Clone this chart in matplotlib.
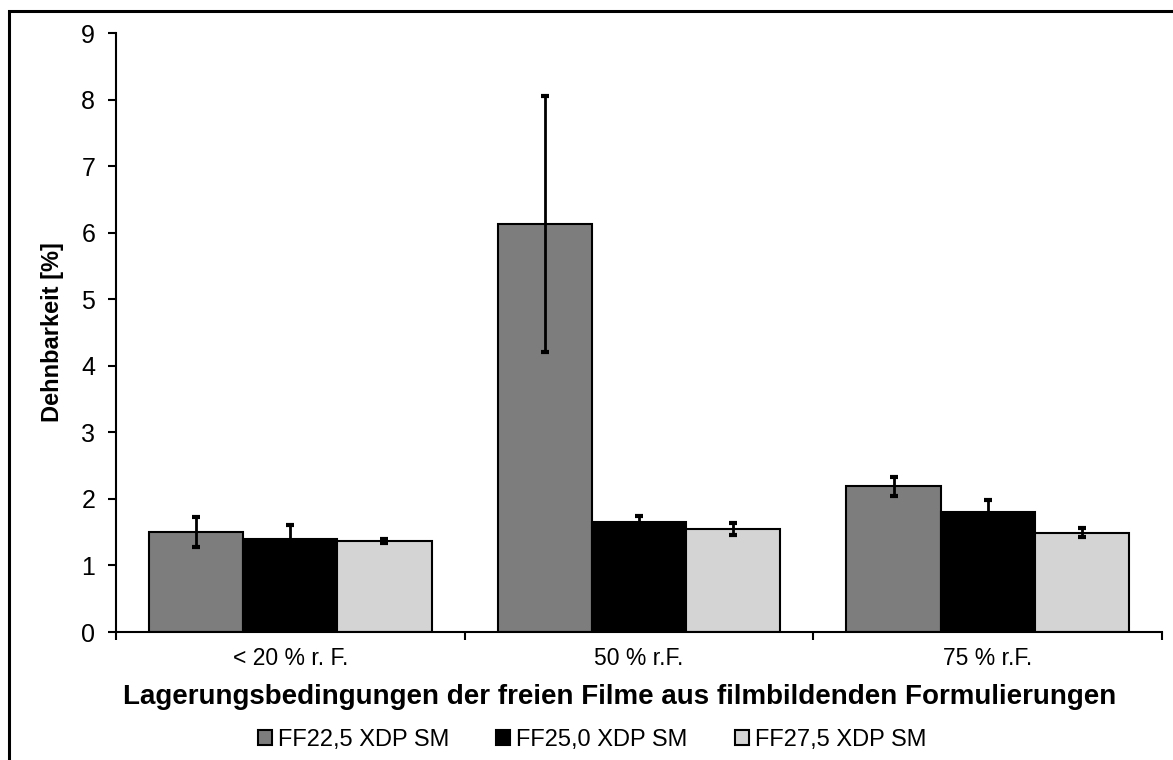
import numpy as np
import matplotlib.pyplot as plt
from matplotlib.patches import Rectangle

# data
groups = ['< 20 % r. F.', '50 % r.F.', '75 % r.F.']
series = ['FF22,5 XDP SM', 'FF25,0 XDP SM', 'FF27,5 XDP SM']
ff225 = [1.50, 6.13, 2.19]
ff250 = [1.40, 1.65, 1.80]
ff275 = [1.36, 1.55, 1.49]
err225 = [0.23, 1.93, 0.14]
err250 = [0.21, 0.10, 0.19]
err275 = [0.03, 0.09, 0.07]

colors = ['#7d7d7d', '#000000', '#d4d4d4']
plt.rcParams['font.family'] = ['Liberation Sans', 'DejaVu Sans']

fig = plt.figure(figsize=(11.73, 7.6), dpi=100)
ax = fig.add_axes([116 / 1173, 1 - 632 / 760, (1162 - 116) / 1173, (632 - 33) / 760])

# outer frame (only left and top edge are inside the image)
fig.patches.append(Rectangle((9 / 1173, -0.1), 1.2, 1 - 11 / 760 + 0.1, transform=fig.transFigure,
                             fill=False, edgecolor='black', linewidth=2.2, clip_on=False))

x = np.arange(len(groups))
w = 0.27
vals = [ff225, ff250, ff275]
errs = [err225, err250, err275]
for i in range(3):
    ax.bar(x + (i - 1) * w, vals[i], w, yerr=errs[i], color=colors[i], edgecolor='black',
           linewidth=1.5, label=series[i],
           error_kw=dict(ecolor='black', elinewidth=2, capsize=3, capthick=3))

ax.set_xlim(-0.5, 2.5)
ax.set_ylim(0, 9)
ax.set_yticks(range(10))
ax.set_xticks([-0.5, 0.5, 1.5, 2.5])
ax.set_xticklabels([])
ax.set_xticks(x, minor=True)
ax.set_xticklabels(groups, minor=True)
ax.tick_params(axis='x', which='minor', length=0, pad=11, labelsize=16.5)
ax.tick_params(axis='x', which='major', length=6, width=1.5, direction='out')
ax.tick_params(axis='y', length=6, width=1.5, labelsize=18, pad=9)
for s in ['top', 'right']:
    ax.spines[s].set_visible(False)
for s in ['left', 'bottom']:
    ax.spines[s].set_linewidth(1.5)

ax.set_ylabel('Dehnbarkeit [%]', fontsize=17, fontweight='bold', labelpad=12)
ax.set_xlabel('Lagerungsbedingungen der freien Filme aus filmbildenden Formulierungen', fontsize=20,
              fontweight='bold')
ax.xaxis.set_label_coords(0.481, -0.086, transform=ax.transAxes)

leg = fig.legend(loc='center', bbox_to_anchor=(592 / 1173, 1 - 740 / 760), ncol=3, frameon=False,
                 fontsize=17, handlelength=0.6, handleheight=0.6, handletextpad=0.25, columnspacing=2.0)

plt.savefig('out.png', dpi=100)
